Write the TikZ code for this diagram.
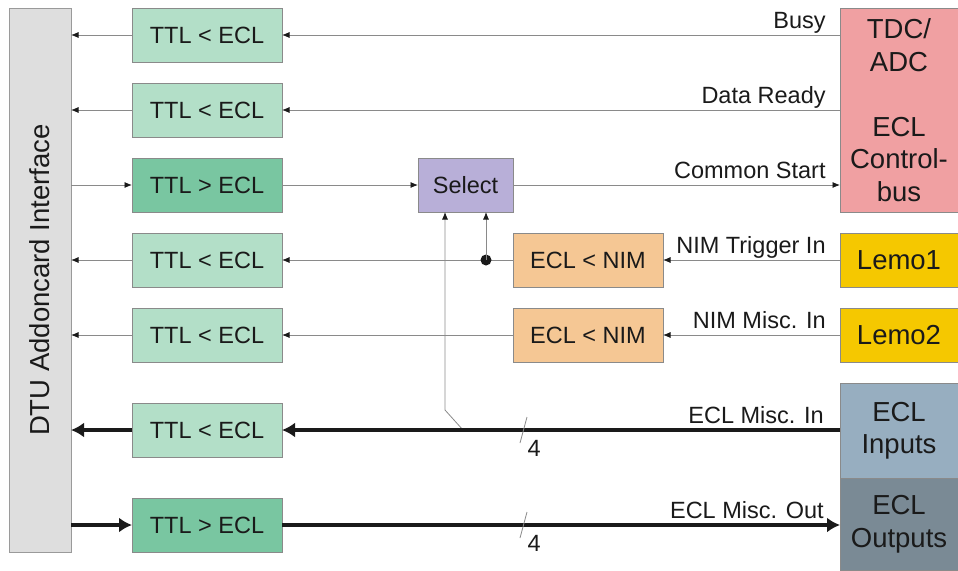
\documentclass[tikz,border=0pt]{standalone}
\usepackage{fontspec}
\setmainfont{Liberation Sans}
\usetikzlibrary{
arrows.meta,
positioning,
calc
}
\definecolor{DTUGray}{HTML}{DEDEDE}
\definecolor{DTUEdge}{HTML}{9A9A9A}
\definecolor{TTLLight}{HTML}{B3DFC8}
\definecolor{TTLDark}{HTML}{79C6A1}
\definecolor{SelViolet}{HTML}{B8AFD8}
\definecolor{NIMOrange}{HTML}{F5C794}
\definecolor{TDCPink}{HTML}{F0A0A2}
\definecolor{LemoGold}{HTML}{F5C800}
\definecolor{ECLInBlue}{HTML}{97AEC0}
\definecolor{ECLOutSlate}{HTML}{7A8A95}
\definecolor{WireGray}{HTML}{8A8A8A}
\definecolor{InkBlack}{HTML}{1A1A1A}
\tikzset{
blk/.style={draw=WireGray, line width=0.8pt, inner sep=0pt, outer sep=0pt, align=center,
  text=InkBlack, font=\fontsize{23.5}{28}\selectfont},
bigblk/.style={blk, minimum width=118pt, font=\fontsize{27.5}{32.5}\selectfont},
ttlin/.style={blk, fill=TTLLight, minimum width=150pt, minimum height=54pt},
ttlout/.style={blk, fill=TTLDark, minimum width=150pt, minimum height=54pt},
nimblk/.style={blk, fill=NIMOrange, minimum width=150pt, minimum height=54pt},
selblk/.style={blk, fill=SelViolet, minimum width=95pt, minimum height=54pt},
sig/.style={font=\fontsize{23.5}{28}\selectfont, text=InkBlack, inner sep=0pt},
wire/.style={-{Latex[length=7.5pt,width=6pt,color=InkBlack]}, line width=0.8pt, draw=WireGray},
bus/.style={-{Latex[length=13pt,width=15pt]}, line width=4.5pt, draw=InkBlack},
tick/.style={line width=0.8pt, draw=WireGray}
}
\begin{document}
\begin{tikzpicture}[x=1pt, y=-1pt]
\useasboundingbox (0,0) rectangle (958,570);
% left side: DTU and level shifters
\node[blk, fill=DTUGray, draw=DTUEdge, minimum width=62pt, minimum height=544pt] (dtu) at (40,280) {};
\node[rotate=90, font=\fontsize{27.5}{32}\selectfont, text=InkBlack] at (dtu.center) {DTU Addoncard Interface};
\node[ttlin] (ttl1) at (207,35) {TTL < ECL};
\node[ttlin] (ttl2) at (207,110) {TTL < ECL};
\node[ttlout] (ttl3) at (207,185) {TTL > ECL};
\node[ttlin] (ttl4) at (207,260) {TTL < ECL};
\node[ttlin] (ttl5) at (207,335) {TTL < ECL};
\node[ttlin] (ttl6) at (207,430) {TTL < ECL};
\node[ttlout] (ttl7) at (207,525) {TTL > ECL};
% middle
\node[selblk] (sel) at (465.5,185) {Select};
\node[nimblk] (nim1) at (588,260) {ECL < NIM};
\node[nimblk] (nim2) at (588,335) {ECL < NIM};
% right side: connectors of the card
\node[bigblk, fill=TDCPink, minimum height=204pt] (tdc) at (899,110) {TDC/\\ADC\\[32.5pt]ECL\\Control-\\bus};
\node[bigblk, fill=LemoGold, minimum height=54pt] (lemo1) at (899,260) {Lemo1};
\node[bigblk, fill=LemoGold, minimum height=54pt] (lemo2) at (899,335) {Lemo2};
\node[bigblk, fill=ECLInBlue, minimum height=95pt] (eclin) at (899,430.5) {ECL\\Inputs};
\node[bigblk, fill=ECLOutSlate, minimum height=92pt] (eclout) at (899,524) {ECL\\Outputs};
% control bus
\draw[wire] (ttl1 -| tdc.west) -- node[sig, pos=0, anchor=base east, shift={(-14pt,7pt)}] {Busy} (ttl1.east);
\draw[wire] (ttl1.west) -- (ttl1 -| dtu.east);
\draw[wire] (ttl2 -| tdc.west) -- node[sig, pos=0, anchor=base east, shift={(-14pt,7pt)}] {Data Ready} (ttl2.east);
\draw[wire] (ttl2.west) -- (ttl2 -| dtu.east);
\draw[wire] (ttl3 -| dtu.east) -- (ttl3.west);
\draw[wire] (ttl3.east) -- (sel.west);
\draw[wire] (sel.east) -- node[sig, pos=1, anchor=base east, shift={(-14pt,7pt)}] {Common Start} (sel -| tdc.west);
% lemo inputs
\draw[wire] (lemo1.west) -- node[sig, pos=0, anchor=base east, shift={(-14pt,7pt)}] {NIM Trigger In} (nim1.east);
\draw[wire] (nim1.west) -- (ttl4.east);
\draw[wire] (ttl4.west) -- (ttl4 -| dtu.east);
\coordinate (trig) at (486,260);
\fill[InkBlack] (trig) circle (5.5pt);
\draw[wire] (trig) -- (trig |- sel.south);
\draw[wire] (lemo2.west) -- node[sig, pos=0, anchor=base east, shift={(-14pt,7pt)}] {NIM Misc. In} (nim2.east);
\draw[wire] (nim2.west) -- (ttl5.east);
\draw[wire] (ttl5.west) -- (ttl5 -| dtu.east);
% ECL buses
\coordinate (tap) at (463,430);
\coordinate (bend) at (445,410);
\draw[wire] (tap) -- (bend) -- (bend |- sel.south);
\draw[bus] (ttl6 -| eclin.west) -- node[sig, pos=0, anchor=base east, shift={(-14pt,7pt)}] {ECL Misc. In} (ttl6.east);
\draw[bus] (ttl6.west) -- (ttl6 -| dtu.east);
\draw[bus] (ttl7 -| dtu.east) -- (ttl7.west);
\draw[bus] (ttl7.east) -- node[sig, pos=1, anchor=base east, shift={(-14pt,7pt)}] {ECL Misc. Out} (ttl7 -| eclout.west);
\coordinate (cut6) at (523.5,430);
\coordinate (cut7) at (523.5,525);
\foreach \c in {cut6,cut7}{
\draw[tick] ([shift={(-3.5,13)}]\c) -- ([shift={(3.5,-13)}]\c);
\node[sig, anchor=north west] (\c n) at ([shift={(4,10)}]\c) {4};
}
\end{tikzpicture}
\end{document}
